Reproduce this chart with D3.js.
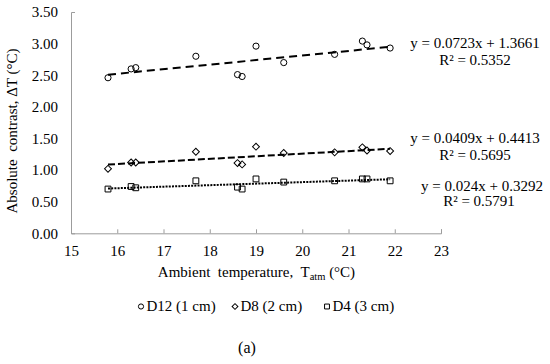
<!DOCTYPE html>

<html lang="en">
  <head>
    <meta charset="utf-8" />
    <style>
      body {
        margin: 0;
        background: #fff;
      }
      #chart {
        display: block;
        font-family: "Liberation Serif", "Times New Roman", serif;
      }
    </style>
  </head>
  <body>
    <svg id="chart" width="550" height="364"></svg>
    <script src="https://d3js.org/d3.v7.min.js"></script>
    <script>
      // ambient temperature (x), shared by all three series
      const temps = [15.8, 16.3, 16.4, 17.7, 18.6, 18.7, 19.0, 19.6, 20.7, 21.3, 21.4, 21.9];

      const d12 = [2.46, 2.60, 2.62, 2.80, 2.51, 2.48, 2.96, 2.70, 2.83, 3.04, 2.98, 2.93];
      const d8 = [1.02, 1.12, 1.12, 1.29, 1.11, 1.09, 1.37, 1.27, 1.28, 1.36, 1.31, 1.30];
      const d4 = [0.70, 0.74, 0.72, 0.83, 0.73, 0.70, 0.86, 0.81, 0.83, 0.86, 0.86, 0.83];

      const seriesNames = ["D12 (1 cm)", "D8 (2 cm)", "D4 (3 cm)"];
      const slopes = [0.0723, 0.0409, 0.024];
      const intercepts = [1.3661, 0.4413, 0.3292];
      const r2 = ["0.5352", "0.5695", "0.5791"];

      const xTicks = [15, 16, 17, 18, 19, 20, 21, 22, 23];
      const yTicks = [0, 0.5, 1, 1.5, 2, 2.5, 3, 3.5];

      const svg = d3.select("#chart");
      const axisColor = "#9c9c9c";

      const x = d3.scaleLinear().domain([15, 23]).range([71, 441]);
      const y = d3.scaleLinear().domain([0, 3.5]).range([233.3, 12]);

      // axes
      const xAxis = svg
        .append("g")
        .attr("transform", `translate(0,${y(0)})`)
        .call(
          d3
            .axisBottom(x)
            .tickValues(xTicks)
            .tickSizeInner(-4)
            .tickSizeOuter(-4)
            .tickPadding(12)
        );

      const yAxis = svg
        .append("g")
        .attr("transform", `translate(${x(15)},0)`)
        .call(
          d3
            .axisLeft(y)
            .tickValues(yTicks)
            .tickFormat(d3.format(".2f"))
            .tickSizeInner(0)
            .tickSizeOuter(-4)
            .tickPadding(13)
        );

      [xAxis, yAxis].forEach(g => {
        g.selectAll("path, line").attr("stroke", axisColor);
        g.selectAll("text")
          .attr("fill", "#000")
          .style("font-family", "'Liberation Serif', 'Times New Roman', serif")
          .style("font-size", "15px");
      });

      // axis titles
      const xTitle = svg
        .append("text")
        .attr("x", 256.5)
        .attr("y", 277)
        .attr("text-anchor", "middle")
        .style("font-size", "15px")
        .style("white-space", "pre");
      xTitle.append("tspan").text("Ambient  temperature,  T");
      xTitle
        .append("tspan")
        .attr("dy", 3)
        .style("font-size", "10.5px")
        .text("atm");
      xTitle
        .append("tspan")
        .attr("dy", -3)
        .text(" (°C)");

      svg
        .append("text")
        .attr("transform", `translate(17,131) rotate(-90)`)
        .attr("text-anchor", "middle")
        .style("font-size", "15px")
        .style("white-space", "pre")
        .text("Absolute  contrast, ΔT (°C)");

      // marker shapes
      const marker = (type, scale) => {
        if (type === 0) return d3.symbol(d3.symbolCircle, 30 * scale)();
        if (type === 1) return d3.symbol(d3.symbolSquare, 24 * scale)();
        return d3.symbol(d3.symbolSquare, 34 * scale)();
      };
      const markerRotate = type => (type === 1 ? 45 : 0);

      const seriesValues = [d12, d8, d4];
      const dashes = ["8,5", "7,3", "2,1.2"];

      seriesValues.forEach((vals, i) => {
        svg
          .append("g")
          .selectAll("path")
          .data(vals)
          .join("path")
          .attr("d", marker(i, 1))
          .attr(
            "transform",
            (d, j) => `translate(${x(temps[j])},${y(d)}) rotate(${markerRotate(i)})`
          )
          .attr("fill", "none")
          .attr("stroke", "#000")
          .attr("stroke-width", 1);
      });

      // linear trendlines
      const xMin = d3.min(temps);
      const xMax = d3.max(temps);
      seriesValues.forEach((vals, i) => {
        const f = t => slopes[i] * t + intercepts[i];
        svg
          .append("line")
          .attr("x1", x(xMin))
          .attr("y1", y(f(xMin)))
          .attr("x2", x(xMax))
          .attr("y2", y(f(xMax)))
          .attr("stroke", "#000")
          .attr("stroke-width", 2)
          .attr("stroke-dasharray", dashes[i]);
      });

      // equation labels
      const eqPos = [
        { cx: 475, y1: 48, cx2: 475, y2: 65 },
        { cx: 475, y1: 143, cx2: 475, y2: 160 },
        { cx: 482, y1: 191, cx2: 479, y2: 206 }
      ];
      eqPos.forEach((p, i) => {
        svg
          .append("text")
          .attr("x", p.cx)
          .attr("y", p.y1)
          .attr("text-anchor", "middle")
          .style("font-size", "15px")
          .text(`y = ${slopes[i]}x + ${intercepts[i]}`);
        svg
          .append("text")
          .attr("x", p.cx2)
          .attr("y", p.y2)
          .attr("text-anchor", "middle")
          .style("font-size", "15px")
          .text(`R² = ${r2[i]}`);
      });

      // legend
      const legendX = [141, 235, 327];
      const legend = svg
        .append("g")
        .selectAll("g")
        .data(seriesNames)
        .join("g")
        .attr("transform", (d, i) => `translate(${legendX[i]},306.5)`);
      legend
        .append("path")
        .attr("d", (d, i) => marker(i, 0.7))
        .attr("transform", (d, i) => `rotate(${markerRotate(i)})`)
        .attr("fill", "none")
        .attr("stroke", "#000");
      legend
        .append("text")
        .attr("x", 5.5)
        .attr("y", 4.8)
        .style("font-size", "15px")
        .text(d => d);

      svg
        .append("text")
        .attr("x", 247)
        .attr("y", 353)
        .attr("text-anchor", "middle")
        .style("font-size", "16px")
        .text("(a)");
    </script>
  </body>
</html>
